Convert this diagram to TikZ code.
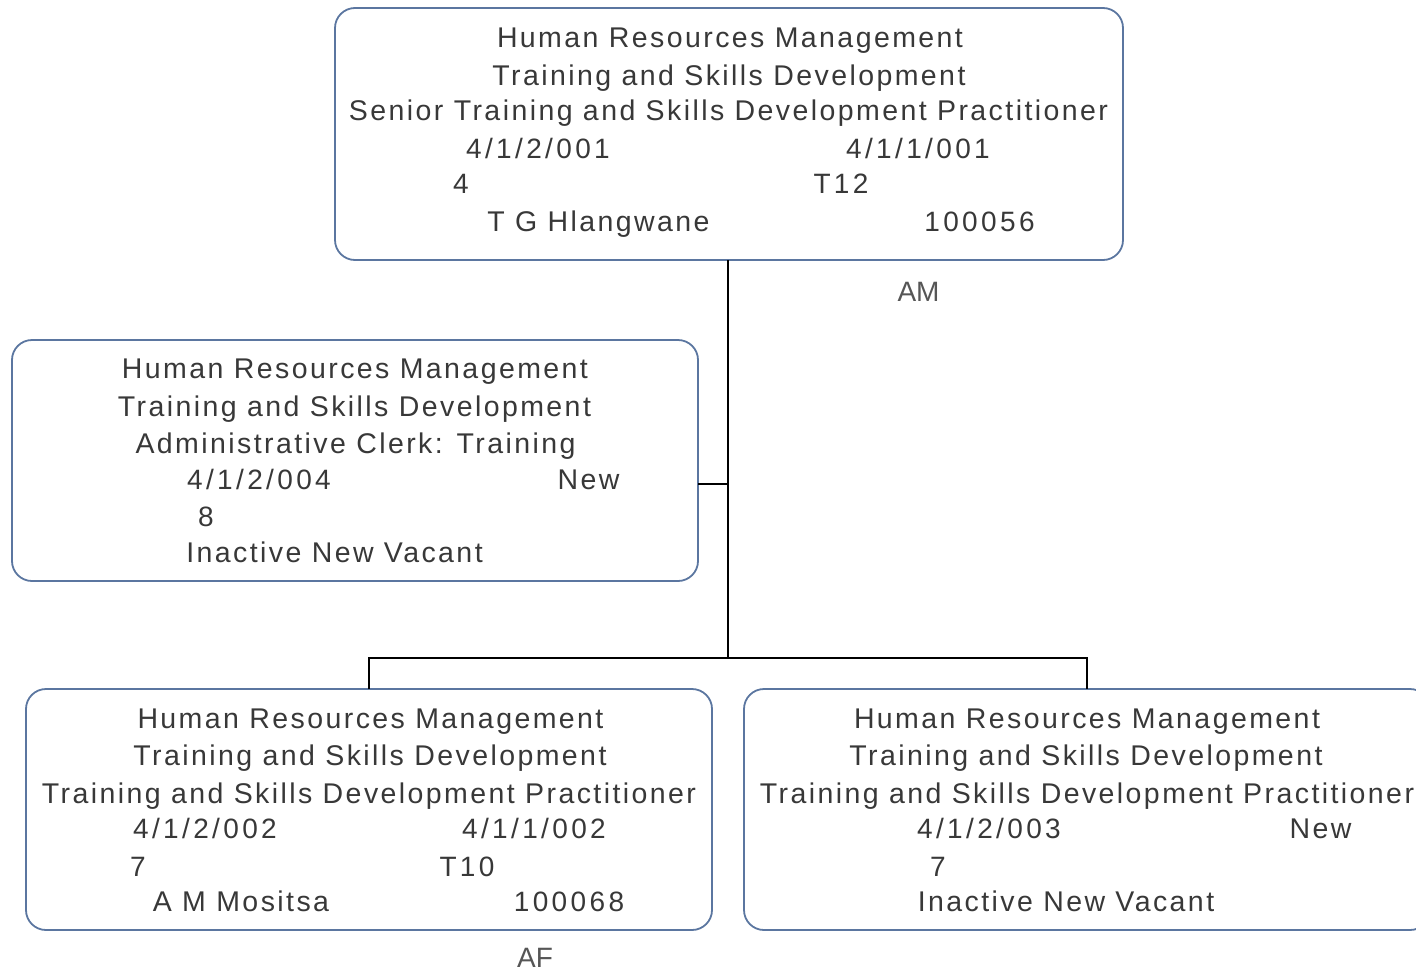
\documentclass[tikz,border=0pt]{standalone}
\usepackage{fontspec}
\setmainfont{Liberation Sans}
\newfontfamily\boxfont[LetterSpace=8.5]{Liberation Sans}
\newfontfamily\numfont[LetterSpace=12]{Liberation Sans}
\newfontfamily\plainfont{Liberation Sans}
\definecolor{boxline}{HTML}{5B76A0}
\definecolor{txt}{HTML}{383838}
\tikzset{
  posbox/.style={draw=boxline, line width=1.8pt, rounded corners=20pt},
  lbl/.style={font=\boxfont\fontsize{28.5}{29}\selectfont, text=txt, inner sep=0pt, anchor=center, text height=20pt, text depth=0pt},
  num/.style={font=\numfont\fontsize{28}{29}\selectfont, text=txt, inner sep=0pt, anchor=center, text height=20pt, text depth=0pt},
  side/.style={font=\plainfont\fontsize{28}{29}\selectfont, text=txt!85, inner sep=0pt, anchor=center, text height=20pt, text depth=0pt},
  conn/.style={draw=black, line width=2pt}
}
\begin{document}
\begin{tikzpicture}[x=1pt,y=-1pt]
\useasboundingbox (0,0) rectangle (1416,972);
% boxes
\draw[posbox] (335,8) rectangle (1123,260);
\draw[posbox] (12,340) rectangle (698,581);
\draw[posbox] (26,689) rectangle (712,930);
\draw[posbox] (744,689) rectangle (1430,930);
\coordinate (topb) at (728,260);
\coordinate (leftr) at (698,484);
\coordinate (j1) at (728,484);
\coordinate (j2) at (728,658);
\coordinate (bl) at (369,689);
\coordinate (br) at (1087,689);
\draw[conn] (topb) -- (j2);
\draw[conn] (leftr) -- (j1);
\draw[conn] (bl) |- (j2) -| (br);
% top box
\node[lbl] (t1) at (730,37) {Human Resources Management};
\node[lbl] (t2) at (729,75) {Training and Skills Development};
\node[lbl] (t3) at (728.5,110) {Senior Training and Skills Development Practitioner};
\node[num] (t4) at (538,148) {4/1/2/001};
\node[num] (t5) at (918,148) {4/1/1/001};
\node[num] (t6) at (461,183) {4};
\node[num] (t7) at (841,183) {T12};
\node[lbl] (t8) at (598.5,221) {T G Hlangwane};
\node[num] (t9) at (979.5,221) {100056};
\node[side] (am) at (918.5,291) {AM};
% left box
\node[lbl] (l1) at (355,368) {Human Resources Management};
\node[lbl] (l2) at (354.5,406) {Training and Skills Development};
\node[lbl] (l3) at (355.5,443) {Administrative Clerk: Training};
\node[num] (l4) at (259,479) {4/1/2/004};
\node[lbl] (l5) at (588.5,479) {New};
\node[num] (l6) at (206,516) {8};
\node[lbl] (l7) at (334.5,552) {Inactive New Vacant};
% bottom left box
\node[lbl] (a1) at (370.5,718) {Human Resources Management};
\node[lbl] (a2) at (370,755) {Training and Skills Development};
\node[lbl] (a3) at (369,793) {Training and Skills Development Practitioner};
\node[num] (a4) at (205,828) {4/1/2/002};
\node[num] (a5) at (534,828) {4/1/1/002};
\node[num] (a6) at (138,866) {7};
\node[num] (a7) at (467,866) {T10};
\node[lbl] (a8) at (241,901) {A M Mositsa};
\node[num] (a9) at (569,901) {100068};
\node[side] (af) at (535,957) {AF};
% bottom right box
\node[lbl] (b1) at (1087,718) {Human Resources Management};
\node[lbl] (b2) at (1086,755) {Training and Skills Development};
\node[lbl] (b3) at (1087,793) {Training and Skills Development Practitioner};
\node[num] (b4) at (989,828) {4/1/2/003};
\node[lbl] (b5) at (1320.5,828) {New};
\node[num] (b6) at (938,866) {7};
\node[lbl] (b7) at (1066,901) {Inactive New Vacant};
\end{tikzpicture}
\end{document}
